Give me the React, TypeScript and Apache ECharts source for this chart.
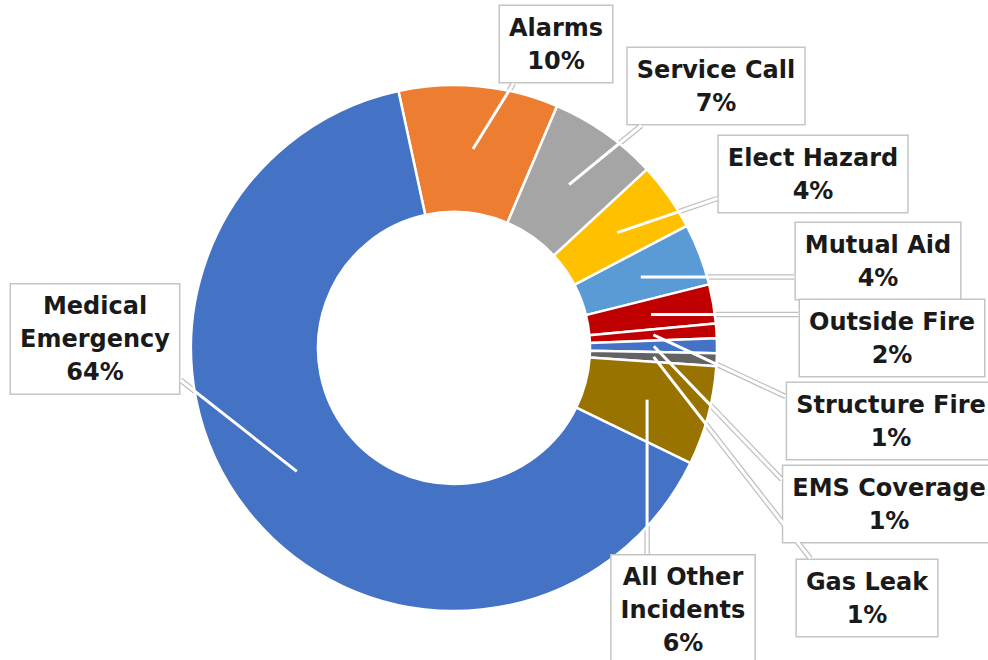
import React, { useEffect, useRef } from 'react';
import * as echarts from 'echarts';

// ---- data ----
const categories = [
  'Alarms',
  'Service Call',
  'Elect Hazard',
  'Mutual Aid',
  'Outside Fire',
  'Structure Fire',
  'EMS Coverage',
  'Gas Leak',
  'All Other Incidents',
  'Medical Emergency',
];
const labelNames = [
  'Alarms',
  'Service Call',
  'Elect Hazard',
  'Mutual Aid',
  'Outside Fire',
  'Structure Fire',
  'EMS Coverage',
  'Gas Leak',
  'All Other\nIncidents',
  'Medical\nEmergency',
];
const shares = [9.8, 6.7, 4.2, 3.8, 2.4, 0.9, 0.9, 0.8, 6.1, 64.4];
const sliceColors = [
  '#ED7D31',
  '#A5A5A5',
  '#FFC000',
  '#5B9BD5',
  '#C00000',
  '#C00000',
  '#4472C4',
  '#636363',
  '#997300',
  '#4472C4',
];

// ---- layout (not data) ----
const CX = 454;
const CY = 348;
const R_IN = 136;
const R_OUT = 263;
const TIP_RATIO = 0.76;
const NUDGE = 15;
const LABEL_CENTERS: number[][] = [
  [556, 44],
  [716, 86],
  [813, 174],
  [878, 261],
  [892, 338],
  [891, 421],
  [889, 504],
  [867, 598],
  [683, 610],
  [95, 339],
];

export default function App() {
  const ref = useRef<HTMLDivElement>(null);

  useEffect(() => {
    if (!ref.current) return;
    const chart = echarts.init(ref.current, undefined, { renderer: 'svg' });
    const cache: Record<number, number[][]> = {};

    const layoutLabel = (params: any) => {
      const i = params.dataIndex;
      const [x, y] = LABEL_CENTERS[i];
      let pts = cache[i];
      if (params.seriesIndex === 0 || !pts) {
        const w = params.labelRect.width;
        const h = params.labelRect.height;
        const p0 = params.labelLinePoints ? params.labelLinePoints[0] : [x, y];
        const dx = p0[0] - CX;
        const dy = p0[1] - CY;
        const d = Math.hypot(dx, dy) || 1;
        const tip = [CX + (dx / d) * R_OUT * TIP_RATIO, CY + (dy / d) * R_OUT * TIP_RATIO];
        const l = x - w / 2;
        const r = x + w / 2;
        const t = y - h / 2;
        const b = y + h / 2;
        const ox = tip[0] < l ? l - tip[0] : tip[0] > r ? tip[0] - r : 0;
        const oy = tip[1] < t ? t - tip[1] : tip[1] > b ? tip[1] - b : 0;
        let ax: number;
        let ay: number;
        if (ox >= oy) {
          ax = tip[0] < l ? l : r;
          ay = oy === 0 ? tip[1] : tip[1] < t ? t + NUDGE : b - NUDGE;
        } else {
          ay = tip[1] < t ? t : b;
          ax = ox === 0 ? tip[0] : tip[0] < l ? l + NUDGE : r - NUDGE;
        }
        pts = [tip, [(tip[0] + ax) / 2, (tip[1] + ay) / 2], [ax, ay]];
        if (params.seriesIndex === 0) cache[i] = pts;
      }
      return {
        x,
        y,
        align: 'center',
        verticalAlign: 'middle',
        labelLinePoints: pts,
      };
    };

    const data = categories.map((name, i) => ({
      name,
      value: shares[i],
      itemStyle: { color: sliceColors[i] },
    }));

    chart.setOption({
      animation: false,
      backgroundColor: '#ffffff',
      series: [
        {
          type: 'pie',
          z: 2,
          center: [CX, CY],
          radius: [R_IN, R_OUT],
          startAngle: 102.2,
          clockwise: true,
          avoidLabelOverlap: false,
          percentPrecision: 0,
          silent: true,
          itemStyle: { borderColor: '#ffffff', borderWidth: 2.5 },
          label: {
            show: true,
            position: 'outside',
            formatter: (p: any) => `${labelNames[p.dataIndex]}\n${p.percent}%`,
            color: '#1a1a1a',
            fontFamily: 'DejaVu Sans',
            fontWeight: 'bold',
            fontSize: 24,
            lineHeight: 33,
            align: 'center',
            backgroundColor: '#ffffff',
            borderColor: '#C4C4C4',
            borderWidth: 1.5,
            padding: [5, 9],
          },
          labelLine: {
            show: true,
            showAbove: true,
            smooth: false,
            lineStyle: { color: '#BFBFBF', width: 5.5 },
          },
          labelLayout: layoutLabel,
          data,
        },
        {
          type: 'pie',
          z: 3,
          center: [CX, CY],
          radius: [R_IN, R_OUT],
          startAngle: 102.2,
          clockwise: true,
          avoidLabelOverlap: false,
          silent: true,
          itemStyle: { color: 'rgba(0,0,0,0)', borderWidth: 0 },
          label: {
            show: true,
            position: 'outside',
            formatter: () => ' ',
            color: 'rgba(0,0,0,0)',
            fontSize: 4,
          },
          labelLine: {
            show: true,
            showAbove: true,
            smooth: false,
            lineStyle: { color: '#ffffff', width: 3 },
          },
          labelLayout: layoutLabel,
          data: categories.map((name, i) => ({ name, value: shares[i] })),
        },
      ],
    });

    return () => chart.dispose();
  }, []);

  return (
    <div
      ref={ref}
      style={{ position: 'fixed', left: 0, top: 0, width: 988, height: 660, background: '#fff' }}
    />
  );
}
